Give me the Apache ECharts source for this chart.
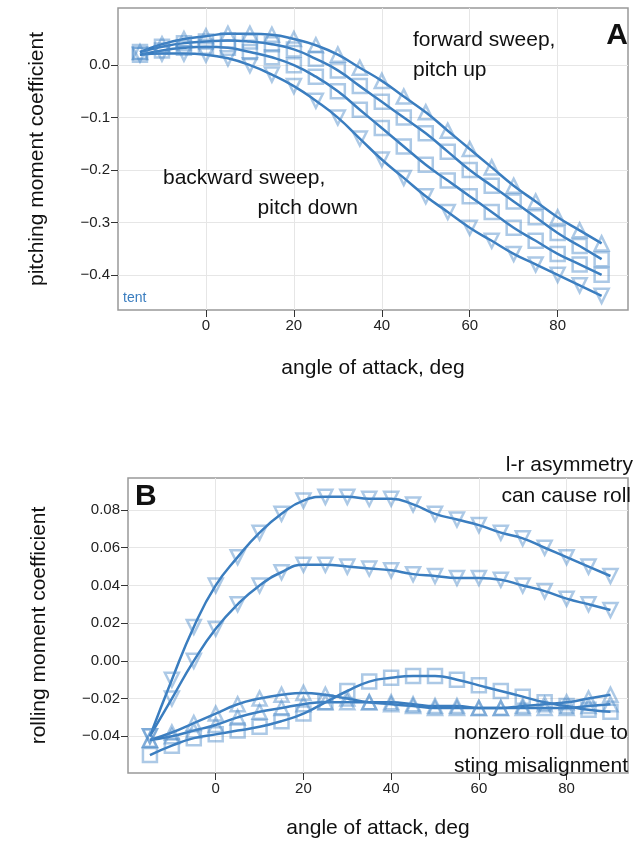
<!DOCTYPE html>
<html><head><meta charset="utf-8">
<script src="https://cdn.jsdelivr.net/npm/echarts@6/dist/echarts.min.js"></script>
<style>html,body{margin:0;padding:0;background:#fff}#c{width:635px;height:860px}</style>
</head><body><div id="c"></div>
<script>
var angle = [-15,-10,-5,0,5,10,15,20,25,30,35,40,45,50,55,60,65,70,75,80,85,90];

// panel A: pitching moment coefficient
var pitch1 = [0.025,0.04,0.05,0.055,0.06,0.06,0.058,0.05,0.038,0.02,-0.005,-0.03,-0.06,-0.09,-0.125,-0.16,-0.195,-0.23,-0.26,-0.29,-0.315,-0.34];
var pitch2 = [0.025,0.035,0.042,0.045,0.047,0.045,0.04,0.03,0.012,-0.01,-0.04,-0.07,-0.1,-0.13,-0.165,-0.2,-0.23,-0.26,-0.29,-0.32,-0.345,-0.37];
var pitch3 = [0.02,0.028,0.033,0.035,0.033,0.025,0.015,0.0,-0.022,-0.05,-0.085,-0.12,-0.155,-0.19,-0.22,-0.25,-0.28,-0.31,-0.335,-0.36,-0.38,-0.40];
var pitch4 = [0.02,0.022,0.022,0.02,0.013,0.0,-0.018,-0.04,-0.068,-0.1,-0.14,-0.18,-0.215,-0.25,-0.28,-0.31,-0.335,-0.36,-0.38,-0.40,-0.42,-0.44];

// panel B: rolling moment coefficient
var roll1 = [-0.04,-0.01,0.018,0.04,0.055,0.068,0.078,0.085,0.087,0.087,0.086,0.086,0.083,0.078,0.075,0.072,0.068,0.065,0.06,0.055,0.05,0.045];
var roll2 = [-0.04,-0.02,0.0,0.017,0.03,0.04,0.047,0.051,0.051,0.05,0.049,0.048,0.046,0.045,0.044,0.044,0.043,0.04,0.037,0.033,0.03,0.027];
var roll3 = [-0.042,-0.038,-0.033,-0.028,-0.023,-0.02,-0.018,-0.017,-0.018,-0.02,-0.022,-0.023,-0.024,-0.025,-0.025,-0.025,-0.025,-0.024,-0.023,-0.022,-0.02,-0.018];
var roll4 = [-0.042,-0.04,-0.037,-0.034,-0.03,-0.027,-0.025,-0.023,-0.022,-0.022,-0.022,-0.022,-0.023,-0.024,-0.024,-0.025,-0.025,-0.025,-0.025,-0.025,-0.024,-0.023];
var roll5 = [-0.05,-0.045,-0.041,-0.039,-0.037,-0.035,-0.032,-0.028,-0.022,-0.016,-0.011,-0.009,-0.008,-0.008,-0.01,-0.013,-0.016,-0.019,-0.022,-0.024,-0.026,-0.027];

var xTicks = [0,20,40,60,80];
var pitchTicks = [-0.4,-0.3,-0.2,-0.1,0.0];
var rollTicks = [-0.04,-0.02,0.00,0.02,0.04,0.06,0.08];

var blue = '#3a7dbf';
var fnt = 'Helvetica, Arial, "Liberation Sans", sans-serif';

function pair(v){ return angle.map(function(a,i){ return [a,v[i]]; }); }
function curve(v, gi, sym, rot){
  return {
    type:'line', xAxisIndex:gi, yAxisIndex:gi, data:pair(v), smooth:0.5,
    symbol:sym, symbolSize:14, symbolRotate:rot||0, showSymbol:true,
    lineStyle:{color:blue,width:2.5},
    itemStyle:{color:'transparent',borderColor:'rgba(70,135,200,0.45)',borderWidth:2.5},
    emphasis:{disabled:true}, z:3
  };
}
function fmt(d){ return function(v){ var s=v.toFixed(d); return v<0 ? '\u2212'+s.slice(1) : s; }; }
function xAx(gi){
  return {type:'value', gridIndex:gi, min:-20, max:gi?94:96, interval:10,
    axisLine:{show:false, onZero:false},
    axisTick:{customValues:xTicks, length:7, lineStyle:{color:'#333'}},
    axisLabel:{customValues:xTicks, color:'#222', fontSize:15, fontFamily:fnt},
    splitLine:{lineStyle:{color:'#e6e6e6'}},
    name:'angle of attack, deg', nameLocation:'middle', nameGap:gi?45:48,
    nameTextStyle:{color:'#111', fontSize:21, fontFamily:fnt}};
}
function yAx(gi, min, max, step, ticks, d){
  return {type:'value', gridIndex:gi, min:min, max:max, interval:step,
    axisLine:{show:false, onZero:false},
    axisTick:{customValues:ticks, length:7, lineStyle:{color:'#333'}},
    axisLabel:{customValues:ticks, formatter:fmt(d), color:'#222', fontSize:15, fontFamily:fnt, margin:8},
    splitLine:{lineStyle:{color:'#e6e6e6'}},
    name:gi?'rolling moment coefficient':'pitching moment coefficient',
    nameLocation:'middle', nameGap:gi?78:70,
    nameTextStyle:{color:'#111', fontSize:21, fontFamily:fnt}};
}
function txt(x,y,s,opt){
  opt=opt||{};
  return {type:'text', x:x, y:y, z:10, style:{text:s, fill:opt.fill||'#111',
    font:(opt.w||'normal')+' '+(opt.size||21)+'px '+fnt, textAlign:opt.align||'left', textVerticalAlign:'middle'}};
}

var chart = echarts.init(document.getElementById('c'));
chart.setOption({
  backgroundColor:'#fff', animation:false,
  grid:[
    {left:118, top:8, width:510, height:302, show:true, borderColor:'#999', borderWidth:1.5, backgroundColor:'transparent'},
    {left:128, top:478, width:500, height:295, show:true, borderColor:'#999', borderWidth:1.5, backgroundColor:'transparent'}
  ],
  xAxis:[xAx(0), xAx(1)],
  yAxis:[yAx(0,-0.467,0.109,0.05,pitchTicks,1), yAx(1,-0.0595,0.097,0.01,rollTicks,2)],
  series:[
    curve(pitch1,0,'triangle'), curve(pitch2,0,'rect'), curve(pitch3,0,'rect'), curve(pitch4,0,'triangle',180),
    curve(roll1,1,'triangle',180), curve(roll2,1,'triangle',180), curve(roll3,1,'triangle'), curve(roll4,1,'triangle'), curve(roll5,1,'rect')
  ],
  graphic:[
    txt(413,40,'forward sweep,'), txt(413,70,'pitch up'),
    txt(628,36,'A',{w:'bold',size:30,align:'right'}),
    txt(163,178,'backward sweep,'), txt(358,208,'pitch down',{align:'right'}),
    txt(123,298,'tent',{fill:blue,size:14}),
    txt(135,497,'B',{w:'bold',size:30}),
    txt(633,465,'l-r asymmetry',{align:'right'}), txt(631,496,'can cause roll',{align:'right'}),
    txt(628,733,'nonzero roll due to',{align:'right'}), txt(628,766,'sting misalignment',{align:'right'})
  ]
});
</script></body></html>
